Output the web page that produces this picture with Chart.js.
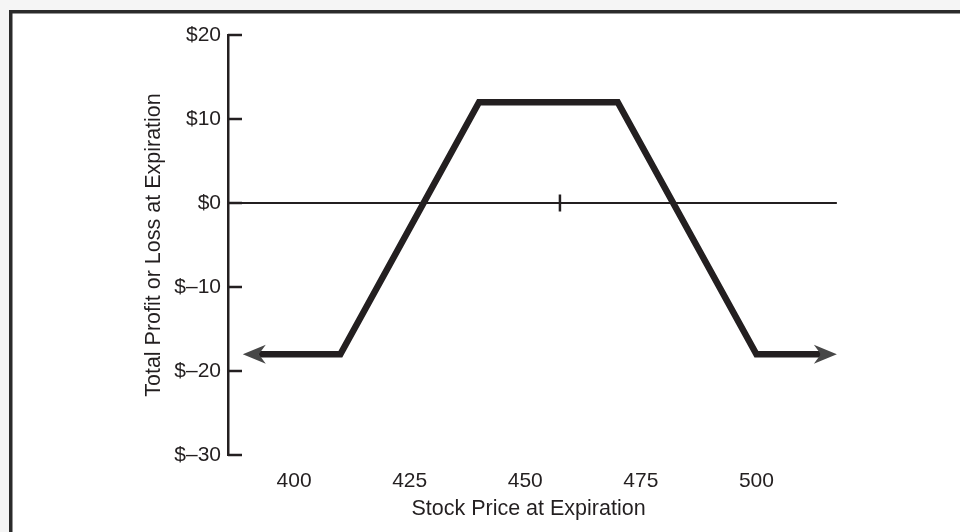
<!DOCTYPE html>
<html><head><meta charset="utf-8">
<script src="https://cdn.jsdelivr.net/npm/chart.js@4.4.1/dist/chart.umd.min.js"></script>
<style>html,body{margin:0;padding:0;background:#fff;} #wrap{width:960px;height:532px;position:relative;} canvas{display:block;}</style>
</head><body><div id="wrap"><canvas id="c" width="960" height="532"></canvas></div>
<script>
// ---- data ----
const stockPrices = [388.9, 410, 440, 470, 500, 517.4];
const profitLoss  = [-18, -18, 12, 12, -18, -18];
const zeroLineX = [385.7, 517.4];
const zeroLineY = [0, 0];
const markerX = [457.5];
const markerY = [0];
const xTickValues = [400, 425, 450, 475, 500];
const xTickLabels = ['400', '425', '450', '475', '500'];
const yTickValues = [-30, -20, -10, 0, 10, 20];
const yTickLabels = ['$–30', '$–20', '$–10', '$0', '$10', '$20'];
const xTitle = 'Stock Price at Expiration';
const yTitle = 'Total Profit or Loss at Expiration';

const INK = '#231f20';
const FONT = "'Liberation Sans', Arial, Helvetica, sans-serif";

const decor = {
  id: 'decor',
  beforeDraw(chart) {
    const ctx = chart.ctx;
    ctx.save();
    ctx.fillStyle = '#ffffff';
    ctx.fillRect(0, 0, chart.width, chart.height);
    ctx.fillStyle = '#f5f5f5';
    ctx.fillRect(0, 0, chart.width, 10);
    ctx.fillRect(0, 0, 9, chart.height);
    ctx.strokeStyle = '#2b2b2b';
    ctx.lineWidth = 3.5;
    ctx.beginPath();
    ctx.moveTo(10.75, chart.height);
    ctx.lineTo(10.75, 11.75);
    ctx.lineTo(chart.width, 11.75);
    ctx.stroke();
    ctx.restore();
  },
  beforeDatasetDraw(chart, args) {
    if (args.index !== 0) return;
    const pts = args.meta.data;
    const ctx = chart.ctx;
    ctx.save();
    ctx.beginPath();
    ctx.rect(pts[0].x + 16, 0, pts[pts.length - 1].x - pts[0].x - 32, chart.height);
    ctx.clip();
  },
  afterDatasetDraw(chart, args) {
    if (args.index !== 0) return;
    chart.ctx.restore();
  },
  afterDatasetsDraw(chart) {
    const ctx = chart.ctx;
    const ys = chart.scales.y;
    const left = chart.chartArea.left;
    ctx.save();
    ctx.strokeStyle = INK;
    ctx.lineWidth = 2.5;
    ys.ticks.forEach(t => {
      const py = Math.round(ys.getPixelForValue(t.value));
      ctx.beginPath();
      ctx.moveTo(left, py);
      ctx.lineTo(left + 14, py);
      ctx.stroke();
    });
    const pts = chart.getDatasetMeta(0).data;
    const arrow = (tx, ty, dir) => {
      ctx.beginPath();
      ctx.moveTo(tx, ty);
      ctx.lineTo(tx - dir * 23, ty - 9.5);
      ctx.lineTo(tx - dir * 16, ty);
      ctx.lineTo(tx - dir * 23, ty + 9.5);
      ctx.closePath();
      ctx.fillStyle = '#474747';
      ctx.fill();
    };
    arrow(pts[0].x, pts[0].y, -1);
    arrow(pts[pts.length - 1].x, pts[pts.length - 1].y, 1);
    ctx.restore();
  }
};

new Chart(document.getElementById('c'), {
  type: 'line',
  data: {
    datasets: [
      {
        data: stockPrices.map((x, i) => ({x, y: profitLoss[i]})),
        borderColor: INK, borderWidth: 6.5, pointRadius: 0,
        borderJoinStyle: 'miter', tension: 0, clip: false
      },
      {
        data: zeroLineX.map((x, i) => ({x, y: zeroLineY[i]})),
        borderColor: INK, borderWidth: 2, pointRadius: 0, clip: false
      },
      {
        data: markerX.map((x, i) => ({x, y: markerY[i]})),
        showLine: false, pointStyle: 'line', rotation: 90, pointRadius: 8.5,
        pointBorderColor: INK, pointBorderWidth: 2.5
      }
    ]
  },
  options: {
    responsive: false, animation: false, devicePixelRatio: 1,
    layout: {padding: {left: 0, top: 35, right: 131, bottom: 0}},
    plugins: {legend: {display: false}, tooltip: {enabled: false}},
    scales: {
      x: {
        type: 'linear', min: 385.7, max: 515.7,
        afterBuildTicks: s => { s.ticks = xTickValues.map(v => ({value: v})); },
        afterFit: s => { s.height = 77; },
        grid: {display: false}, border: {display: false},
        ticks: {
          autoSkip: false, maxRotation: 0, padding: 6, color: INK,
          font: {family: FONT, size: 21},
          callback: v => xTickLabels[xTickValues.indexOf(v)]
        },
        title: {display: true, text: xTitle, color: INK, font: {family: FONT, size: 21.5}, padding: {top: 0, bottom: 10}}
      },
      y: {
        type: 'linear', min: -30, max: 20,
        afterBuildTicks: s => { s.ticks = yTickValues.map(v => ({value: v})); },
        afterFit: s => { s.width = 228; },
        grid: {display: true, drawOnChartArea: false, drawTicks: false},
        border: {display: true, color: INK, width: 2.5},
        ticks: {
          padding: 7, color: INK, font: {family: FONT, size: 21},
          callback: v => yTickLabels[yTickValues.indexOf(v)]
        },
        title: {display: true, text: yTitle, color: INK, font: {family: FONT, size: 21.5}, padding: {top: 141, bottom: 0}}
      }
    }
  },
  plugins: [decor]
});
</script></body></html>
